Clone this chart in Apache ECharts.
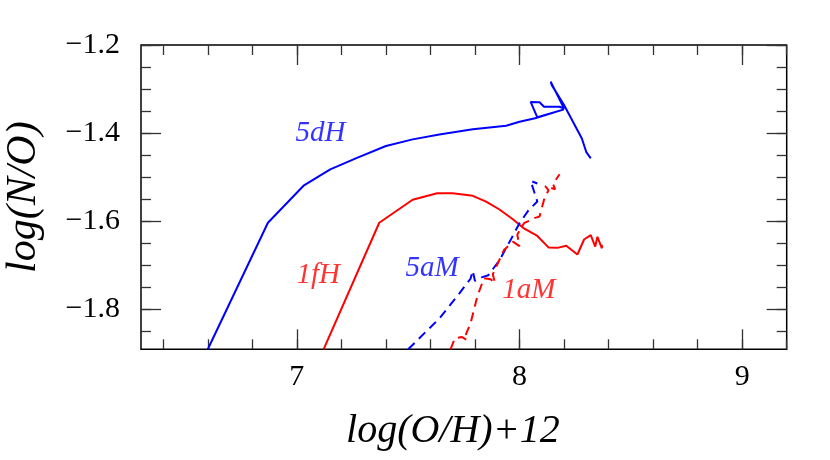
<!DOCTYPE html>
<html>
<head>
<meta charset="utf-8">
<script src="https://cdn.jsdelivr.net/npm/echarts@6/dist/echarts.min.js"></script>
<style>html,body{margin:0;padding:0;background:#fff}#c{width:830px;height:460px}</style>
</head>
<body>
<div id="c"></div>
<script>
// ---- data ----
const xTickLabels = [7, 8, 9];
const yTickLabels = [-1.8, -1.6, -1.4, -1.2];

const x5dH = [6.60, 6.87, 7.03, 7.15, 7.27, 7.40, 7.52, 7.64, 7.79, 7.94, 8.00, 8.07, 8.20, 8.08, 8.05, 8.09, 8.11, 8.18, 8.20, 8.14, 8.145, 8.20, 8.24, 8.28, 8.30, 8.32];
const y5dH = [-1.89, -1.603, -1.519, -1.482, -1.456, -1.429, -1.414, -1.403, -1.391, -1.383, -1.374, -1.366, -1.346, -1.364, -1.329, -1.330, -1.340, -1.340, -1.344, -1.283, -1.291, -1.336, -1.374, -1.412, -1.443, -1.457];

const x1fH = [7.12, 7.37, 7.52, 7.63, 7.70, 7.79, 7.85, 7.91, 7.97, 8.02, 8.08, 8.13, 8.17, 8.21, 8.26, 8.29, 8.32, 8.34, 8.35, 8.37, 8.37];
const y1fH = [-1.89, -1.603, -1.551, -1.536, -1.536, -1.542, -1.555, -1.573, -1.595, -1.616, -1.633, -1.659, -1.660, -1.655, -1.675, -1.641, -1.631, -1.657, -1.635, -1.661, -1.653];

const x5aM = [7.50, 7.64, 7.73, 7.78, 7.79, 7.80, 7.83, 7.86, 7.91, 7.96, 8.00, 8.04, 8.08, 8.05, 8.08];
const y5aM = [-1.89, -1.820, -1.763, -1.730, -1.712, -1.735, -1.727, -1.722, -1.688, -1.642, -1.604, -1.575, -1.555, -1.508, -1.514];

const x1aM = [7.69, 7.71, 7.74, 7.765, 7.76, 7.78, 7.81, 7.84, 7.87, 7.89, 7.88, 7.93, 7.97, 8.00, 7.99, 8.02, 8.07, 8.09, 8.11, 8.13, 8.115, 8.16, 8.15, 8.18];
const y1aM = [-1.89, -1.865, -1.862, -1.869, -1.855, -1.831, -1.771, -1.729, -1.731, -1.740, -1.720, -1.665, -1.646, -1.656, -1.630, -1.604, -1.592, -1.589, -1.551, -1.529, -1.520, -1.527, -1.515, -1.493];

const annoText = ['5dH', '1fH', '5aM', '1aM'];
const annoX = [7.106, 7.096, 7.607, 8.042];
const annoY = [-1.40, -1.722, -1.706, -1.756];
const annoColor = ['#0000ff', '#ff0000', '#0000ff', '#ff0000'];

// ---- layout ----
const W = 830, H = 460;
const L = 141, R = 786.7, T = 45, B = 349.3;
const xMin = 6.3, xMax = 9.2, yMin = -1.89, yMax = -1.2;
const px = v => L + (v - xMin) * (R - L) / (xMax - xMin);
const py = v => T + (yMax - v) * (B - T) / (yMax - yMin);

const FONT = 'Liberation Serif';
const tickCol = '#333';
const zip = (a, b) => a.map((v, i) => [v, b[i]]);

const hiddenX = (gi) => ({gridIndex: gi, type: 'value', show: false, min: 0, max: 1});
const hiddenY = (gi) => ({gridIndex: gi, type: 'value', show: false, min: 0, max: 1});

function tickAxis(gi, pos, mn, mx, iv, len, labels, isX) {
  return {
    gridIndex: gi, type: 'value', position: pos, min: mn, max: mx, interval: iv,
    axisLine: {show: false},
    splitLine: {show: false},
    axisTick: {show: true, inside: true, length: len, lineStyle: {color: tickCol, width: 1.3}},
    axisLabel: labels ? {
      show: true, fontFamily: FONT, fontSize: 30, color: '#000', margin: isX ? 13 : 21,
      formatter: v => isX ? String(Math.round(v)) : v.toFixed(1).replace('-', '\u2212')
    } : {show: false}
  };
}

const g = (o) => Object.assign({outerBoundsMode: 'none', containLabel: false}, o);

const option = {
  animation: false,
  backgroundColor: '#fff',
  grid: [
    g({left: L, top: T, width: R - L, height: B - T, show: true, borderColor: '#000', borderWidth: 1.5, backgroundColor: 'transparent'}),
    g({left: px(6.4), top: T, width: R - px(6.4), height: B - T}),
    g({left: px(7), top: T, width: px(9) - px(7), height: B - T}),
    g({left: L, top: T, width: R - L, height: py(-1.85) - T}),
    g({left: L, top: T, width: R - L, height: py(-1.8) - T})
  ],
  xAxis: [
    {gridIndex: 0, type: 'value', min: xMin, max: xMax, show: true,
     axisLine: {show: false}, axisTick: {show: false}, axisLabel: {show: false}, splitLine: {show: false},
     name: 'log(O/H)+12', nameLocation: 'middle', nameGap: 62,
     nameTextStyle: {fontFamily: FONT, fontStyle: 'italic', fontSize: 40, color: '#000', padding: [0, 22, 0, 0]}},
    tickAxis(1, 'bottom', 6.4, 9.2, 0.2, 10, false, true),
    tickAxis(1, 'top', 6.4, 9.2, 0.2, 10, false, true),
    tickAxis(2, 'bottom', xTickLabels[0], xTickLabels[xTickLabels.length - 1], 1, 20, true, true),
    tickAxis(2, 'top', xTickLabels[0], xTickLabels[xTickLabels.length - 1], 1, 20, false, true),
    hiddenX(3),
    hiddenX(4)
  ],
  yAxis: [
    {gridIndex: 0, type: 'value', min: yMin, max: yMax, show: true,
     axisLine: {show: false}, axisTick: {show: false}, axisLabel: {show: false}, splitLine: {show: false},
     name: 'log(N/O)', nameLocation: 'middle', nameGap: 96, nameRotate: 90,
     nameTextStyle: {fontFamily: FONT, fontStyle: 'italic', fontSize: 42, color: '#000'}},
    hiddenY(1),
    hiddenY(2),
    tickAxis(3, 'left', -1.85, -1.2, 0.05, 10, false, false),
    tickAxis(3, 'right', -1.85, -1.2, 0.05, 10, false, false),
    tickAxis(4, 'left', yTickLabels[0], yTickLabels[yTickLabels.length - 1], 0.2, 20, true, false),
    tickAxis(4, 'right', yTickLabels[0], yTickLabels[yTickLabels.length - 1], 0.2, 20, false, false)
  ],
  series: [
    {type: 'line', xAxisIndex: 0, yAxisIndex: 0, data: zip(x5dH, y5dH), showSymbol: false, clip: true,
     lineStyle: {color: '#0000ff', width: 2}},
    {type: 'line', xAxisIndex: 0, yAxisIndex: 0, data: zip(x1fH, y1fH), showSymbol: false, clip: true,
     lineStyle: {color: '#ff0000', width: 2}},
    {type: 'line', xAxisIndex: 0, yAxisIndex: 0, data: zip(x5aM, y5aM), showSymbol: false, clip: true,
     lineStyle: {color: '#0000ff', width: 2, type: [9, 6]}},
    {type: 'line', xAxisIndex: 0, yAxisIndex: 0, data: zip(x1aM, y1aM), showSymbol: false, clip: true,
     lineStyle: {color: '#ff0000', width: 2, type: [9, 6]}},
    {type: 'scatter', xAxisIndex: 0, yAxisIndex: 0, symbolSize: 2, silent: true,
     itemStyle: {color: 'rgba(0,0,0,0)'},
     data: annoText.map((t, i) => ({name: t, value: [annoX[i], annoY[i]],
       label: {show: true, position: 'inside', formatter: t, color: annoColor[i],
               fontFamily: FONT, fontStyle: 'italic', fontSize: 29}}))}
  ]
};

const chart = echarts.init(document.getElementById('c'), null, {renderer: 'canvas', width: W, height: H});
chart.setOption(option);
</script>
</body>
</html>
